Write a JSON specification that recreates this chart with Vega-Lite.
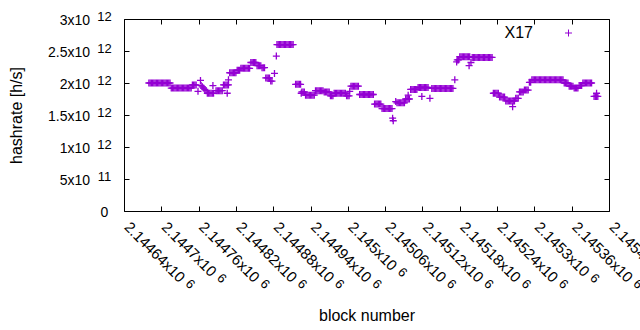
{
"$schema": "https://vega.github.io/schema/vega-lite/v6.json",
"width": 485, "height": 192,
"autosize": {"type": "none"},
"padding": {"left": 124, "top": 19, "right": 31, "bottom": 119},
"background": "white",
"config": {"view": {"stroke": null}, "font": "Liberation Sans",
  "axis": {"labelFont": "Liberation Sans", "titleFont": "Liberation Sans", "labelColor": "black", "titleColor": "black", "domainColor": "black", "tickColor": "black", "grid": false, "domainWidth": 1, "tickWidth": 1}},
"data": {"values": [
{"block":2144680,"hashrate":2.00e12},{"block":2144682,"hashrate":2.00e12},{"block":2144684,"hashrate":2.00e12},{"block":2144686,"hashrate":2.00e12},{"block":2144688,"hashrate":2.00e12},{"block":2144690,"hashrate":2.00e12},{"block":2144692,"hashrate":2.00e12},{"block":2144694,"hashrate":2.00e12},{"block":2144696,"hashrate":2.00e12},{"block":2144698,"hashrate":2.00e12},{"block":2144700,"hashrate":2.00e12},{"block":2144702,"hashrate":2.00e12},{"block":2144704,"hashrate":2.00e12},{"block":2144706,"hashrate":2.00e12},{"block":2144708,"hashrate":2.00e12},{"block":2144710,"hashrate":2.00e12},{"block":2144712,"hashrate":2.00e12},{"block":2144714,"hashrate":2.00e12},
{"block":2144716,"hashrate":1.92e12},{"block":2144718,"hashrate":1.92e12},{"block":2144720,"hashrate":1.92e12},{"block":2144722,"hashrate":1.92e12},{"block":2144724,"hashrate":1.92e12},{"block":2144726,"hashrate":1.92e12},{"block":2144728,"hashrate":1.92e12},{"block":2144730,"hashrate":1.92e12},{"block":2144732,"hashrate":1.92e12},{"block":2144734,"hashrate":1.92e12},{"block":2144736,"hashrate":1.92e12},{"block":2144738,"hashrate":1.92e12},{"block":2144740,"hashrate":1.92e12},{"block":2144742,"hashrate":1.92e12},{"block":2144744,"hashrate":1.92e12},{"block":2144746,"hashrate":1.92e12},{"block":2144748,"hashrate":1.92e12},
{"block":2144750,"hashrate":1.97e12},{"block":2144752,"hashrate":1.97e12},{"block":2144754,"hashrate":1.97e12},{"block":2144756,"hashrate":1.97e12},
{"block":2144759,"hashrate":1.87e12},{"block":2144763,"hashrate":2.04e12},
{"block":2144764,"hashrate":1.96e12},{"block":2144766,"hashrate":1.94e12},{"block":2144768,"hashrate":1.92e12},{"block":2144770,"hashrate":1.90e12},{"block":2144772,"hashrate":1.88e12},
{"block":2144774,"hashrate":1.84e12},{"block":2144776,"hashrate":1.84e12},{"block":2144778,"hashrate":1.84e12},{"block":2144780,"hashrate":1.84e12},{"block":2144782,"hashrate":1.84e12},{"block":2144784,"hashrate":1.84e12},
{"block":2144783,"hashrate":1.96e12},
{"block":2144788,"hashrate":1.88e12},{"block":2144790,"hashrate":1.88e12},{"block":2144792,"hashrate":1.88e12},{"block":2144794,"hashrate":1.88e12},{"block":2144796,"hashrate":1.88e12},{"block":2144798,"hashrate":1.88e12},
{"block":2144800,"hashrate":1.97e12},{"block":2144802,"hashrate":1.97e12},{"block":2144804,"hashrate":1.97e12},{"block":2144806,"hashrate":1.97e12},{"block":2144808,"hashrate":1.97e12},
{"block":2144806,"hashrate":1.84e12},{"block":2144808,"hashrate":2.05e12},
{"block":2144810,"hashrate":2.16e12},{"block":2144812,"hashrate":2.16e12},{"block":2144814,"hashrate":2.16e12},{"block":2144816,"hashrate":2.16e12},{"block":2144818,"hashrate":2.16e12},{"block":2144820,"hashrate":2.16e12},
{"block":2144822,"hashrate":2.20e12},{"block":2144824,"hashrate":2.20e12},{"block":2144826,"hashrate":2.20e12},
{"block":2144828,"hashrate":2.23e12},{"block":2144830,"hashrate":2.23e12},{"block":2144832,"hashrate":2.23e12},{"block":2144834,"hashrate":2.23e12},{"block":2144836,"hashrate":2.23e12},{"block":2144838,"hashrate":2.23e12},{"block":2144840,"hashrate":2.23e12},{"block":2144842,"hashrate":2.23e12},
{"block":2144844,"hashrate":2.32e12},{"block":2144846,"hashrate":2.32e12},{"block":2144848,"hashrate":2.32e12},{"block":2144850,"hashrate":2.32e12},{"block":2144852,"hashrate":2.32e12},
{"block":2144854,"hashrate":2.27e12},{"block":2144856,"hashrate":2.27e12},{"block":2144858,"hashrate":2.27e12},{"block":2144860,"hashrate":2.27e12},
{"block":2144862,"hashrate":2.24e12},{"block":2144864,"hashrate":2.24e12},{"block":2144866,"hashrate":2.24e12},
{"block":2144868,"hashrate":2.08e12},{"block":2144870,"hashrate":2.08e12},{"block":2144872,"hashrate":2.08e12},{"block":2144874,"hashrate":2.08e12},
{"block":2144876,"hashrate":2.03e12},{"block":2144878,"hashrate":2.03e12},
{"block":2144882,"hashrate":2.15e12},{"block":2144885,"hashrate":2.42e12},
{"block":2144886,"hashrate":2.60e12},{"block":2144888,"hashrate":2.60e12},{"block":2144890,"hashrate":2.60e12},{"block":2144892,"hashrate":2.60e12},{"block":2144894,"hashrate":2.60e12},{"block":2144896,"hashrate":2.60e12},{"block":2144898,"hashrate":2.60e12},{"block":2144900,"hashrate":2.60e12},{"block":2144902,"hashrate":2.60e12},{"block":2144904,"hashrate":2.60e12},{"block":2144906,"hashrate":2.60e12},{"block":2144908,"hashrate":2.60e12},{"block":2144910,"hashrate":2.60e12},{"block":2144912,"hashrate":2.60e12},
{"block":2144916,"hashrate":1.98e12},{"block":2144918,"hashrate":1.98e12},{"block":2144920,"hashrate":1.98e12},{"block":2144922,"hashrate":1.98e12},{"block":2144924,"hashrate":1.98e12},
{"block":2144925,"hashrate":1.84e12},
{"block":2144926,"hashrate":1.86e12},{"block":2144928,"hashrate":1.86e12},{"block":2144930,"hashrate":1.86e12},
{"block":2144932,"hashrate":1.81e12},{"block":2144934,"hashrate":1.81e12},{"block":2144936,"hashrate":1.81e12},{"block":2144938,"hashrate":1.81e12},{"block":2144940,"hashrate":1.81e12},{"block":2144942,"hashrate":1.81e12},{"block":2144944,"hashrate":1.81e12},{"block":2144946,"hashrate":1.81e12},
{"block":2144948,"hashrate":1.88e12},{"block":2144950,"hashrate":1.88e12},{"block":2144952,"hashrate":1.88e12},{"block":2144954,"hashrate":1.88e12},{"block":2144956,"hashrate":1.88e12},{"block":2144958,"hashrate":1.88e12},{"block":2144960,"hashrate":1.88e12},
{"block":2144962,"hashrate":1.86e12},{"block":2144964,"hashrate":1.86e12},{"block":2144966,"hashrate":1.86e12},{"block":2144968,"hashrate":1.86e12},{"block":2144970,"hashrate":1.86e12},
{"block":2144972,"hashrate":1.80e12},{"block":2144974,"hashrate":1.80e12},{"block":2144976,"hashrate":1.80e12},
{"block":2144978,"hashrate":1.84e12},{"block":2144980,"hashrate":1.84e12},{"block":2144982,"hashrate":1.84e12},{"block":2144984,"hashrate":1.84e12},{"block":2144986,"hashrate":1.84e12},{"block":2144988,"hashrate":1.84e12},{"block":2144990,"hashrate":1.84e12},{"block":2144992,"hashrate":1.84e12},{"block":2144994,"hashrate":1.84e12},{"block":2144996,"hashrate":1.84e12},
{"block":2144998,"hashrate":1.80e12},{"block":2145000,"hashrate":1.80e12},{"block":2145002,"hashrate":1.80e12},
{"block":2145003,"hashrate":1.87e12},
{"block":2145005,"hashrate":1.95e12},{"block":2145007,"hashrate":1.95e12},{"block":2145009,"hashrate":1.95e12},{"block":2145011,"hashrate":1.95e12},{"block":2145013,"hashrate":1.95e12},{"block":2145015,"hashrate":1.95e12},{"block":2145017,"hashrate":1.95e12},
{"block":2145019,"hashrate":1.82e12},{"block":2145021,"hashrate":1.82e12},{"block":2145023,"hashrate":1.82e12},{"block":2145025,"hashrate":1.82e12},{"block":2145027,"hashrate":1.82e12},{"block":2145029,"hashrate":1.82e12},{"block":2145031,"hashrate":1.82e12},{"block":2145033,"hashrate":1.82e12},{"block":2145035,"hashrate":1.82e12},{"block":2145037,"hashrate":1.82e12},{"block":2145039,"hashrate":1.82e12},{"block":2145041,"hashrate":1.82e12},
{"block":2145043,"hashrate":1.67e12},{"block":2145045,"hashrate":1.67e12},{"block":2145047,"hashrate":1.67e12},{"block":2145049,"hashrate":1.67e12},{"block":2145051,"hashrate":1.67e12},{"block":2145053,"hashrate":1.67e12},
{"block":2145055,"hashrate":1.60e12},{"block":2145057,"hashrate":1.60e12},{"block":2145059,"hashrate":1.60e12},{"block":2145061,"hashrate":1.60e12},{"block":2145063,"hashrate":1.60e12},{"block":2145065,"hashrate":1.60e12},{"block":2145067,"hashrate":1.60e12},{"block":2145069,"hashrate":1.60e12},{"block":2145071,"hashrate":1.60e12},
{"block":2145072,"hashrate":1.45e12},{"block":2145073,"hashrate":1.41e12},{"block":2145077,"hashrate":1.71e12},
{"block":2145079,"hashrate":1.69e12},{"block":2145081,"hashrate":1.69e12},{"block":2145083,"hashrate":1.69e12},{"block":2145085,"hashrate":1.69e12},{"block":2145087,"hashrate":1.69e12},{"block":2145089,"hashrate":1.69e12},{"block":2145091,"hashrate":1.69e12},
{"block":2145093,"hashrate":1.75e12},{"block":2145095,"hashrate":1.75e12},{"block":2145097,"hashrate":1.75e12},{"block":2145099,"hashrate":1.75e12},
{"block":2145097,"hashrate":1.81e12},
{"block":2145101,"hashrate":1.90e12},{"block":2145103,"hashrate":1.90e12},{"block":2145105,"hashrate":1.90e12},{"block":2145107,"hashrate":1.90e12},{"block":2145109,"hashrate":1.90e12},{"block":2145111,"hashrate":1.90e12},
{"block":2145113,"hashrate":1.93e12},{"block":2145115,"hashrate":1.93e12},{"block":2145117,"hashrate":1.93e12},{"block":2145119,"hashrate":1.93e12},{"block":2145121,"hashrate":1.93e12},{"block":2145123,"hashrate":1.93e12},{"block":2145125,"hashrate":1.93e12},{"block":2145127,"hashrate":1.93e12},{"block":2145129,"hashrate":1.93e12},
{"block":2145119,"hashrate":1.79e12},{"block":2145132,"hashrate":1.76e12},
{"block":2145135,"hashrate":1.915e12},{"block":2145137,"hashrate":1.915e12},{"block":2145139,"hashrate":1.915e12},{"block":2145141,"hashrate":1.915e12},{"block":2145143,"hashrate":1.915e12},{"block":2145145,"hashrate":1.915e12},{"block":2145147,"hashrate":1.915e12},{"block":2145149,"hashrate":1.915e12},{"block":2145151,"hashrate":1.915e12},{"block":2145153,"hashrate":1.915e12},{"block":2145155,"hashrate":1.915e12},{"block":2145157,"hashrate":1.915e12},{"block":2145159,"hashrate":1.915e12},{"block":2145161,"hashrate":1.915e12},{"block":2145163,"hashrate":1.915e12},{"block":2145165,"hashrate":1.915e12},{"block":2145167,"hashrate":1.915e12},{"block":2145169,"hashrate":1.915e12},
{"block":2145172,"hashrate":2.05e12},{"block":2145175,"hashrate":2.33e12},
{"block":2145176,"hashrate":2.36e12},{"block":2145178,"hashrate":2.36e12},
{"block":2145180,"hashrate":2.41e12},{"block":2145182,"hashrate":2.41e12},{"block":2145184,"hashrate":2.41e12},{"block":2145186,"hashrate":2.41e12},{"block":2145188,"hashrate":2.41e12},{"block":2145190,"hashrate":2.41e12},{"block":2145192,"hashrate":2.41e12},{"block":2145194,"hashrate":2.41e12},{"block":2145196,"hashrate":2.41e12},
{"block":2145195,"hashrate":2.27e12},{"block":2145198,"hashrate":2.32e12},
{"block":2145200,"hashrate":2.40e12},{"block":2145202,"hashrate":2.40e12},{"block":2145204,"hashrate":2.40e12},{"block":2145206,"hashrate":2.40e12},{"block":2145208,"hashrate":2.40e12},{"block":2145210,"hashrate":2.40e12},{"block":2145212,"hashrate":2.40e12},{"block":2145214,"hashrate":2.40e12},{"block":2145216,"hashrate":2.40e12},{"block":2145218,"hashrate":2.40e12},{"block":2145220,"hashrate":2.40e12},{"block":2145222,"hashrate":2.40e12},{"block":2145224,"hashrate":2.40e12},{"block":2145226,"hashrate":2.40e12},{"block":2145228,"hashrate":2.40e12},{"block":2145230,"hashrate":2.40e12},{"block":2145232,"hashrate":2.40e12},
{"block":2145234,"hashrate":1.84e12},{"block":2145236,"hashrate":1.84e12},{"block":2145238,"hashrate":1.84e12},{"block":2145240,"hashrate":1.84e12},{"block":2145242,"hashrate":1.84e12},
{"block":2145244,"hashrate":1.78e12},{"block":2145246,"hashrate":1.78e12},{"block":2145248,"hashrate":1.78e12},{"block":2145250,"hashrate":1.78e12},{"block":2145252,"hashrate":1.78e12},
{"block":2145254,"hashrate":1.72e12},{"block":2145256,"hashrate":1.72e12},{"block":2145258,"hashrate":1.72e12},{"block":2145260,"hashrate":1.72e12},{"block":2145262,"hashrate":1.72e12},{"block":2145264,"hashrate":1.72e12},{"block":2145266,"hashrate":1.72e12},{"block":2145268,"hashrate":1.72e12},
{"block":2145265,"hashrate":1.63e12},
{"block":2145270,"hashrate":1.76e12},{"block":2145272,"hashrate":1.76e12},{"block":2145274,"hashrate":1.76e12},
{"block":2145276,"hashrate":1.86e12},{"block":2145278,"hashrate":1.86e12},{"block":2145280,"hashrate":1.86e12},{"block":2145282,"hashrate":1.86e12},
{"block":2145284,"hashrate":1.89e12},{"block":2145286,"hashrate":1.89e12},{"block":2145288,"hashrate":1.89e12},{"block":2145290,"hashrate":1.89e12},
{"block":2145292,"hashrate":2.01e12},{"block":2145294,"hashrate":2.01e12},
{"block":2145296,"hashrate":2.05e12},{"block":2145298,"hashrate":2.05e12},{"block":2145300,"hashrate":2.05e12},{"block":2145302,"hashrate":2.05e12},{"block":2145304,"hashrate":2.05e12},{"block":2145306,"hashrate":2.05e12},{"block":2145308,"hashrate":2.05e12},{"block":2145310,"hashrate":2.05e12},{"block":2145312,"hashrate":2.05e12},{"block":2145314,"hashrate":2.05e12},{"block":2145316,"hashrate":2.05e12},{"block":2145318,"hashrate":2.05e12},{"block":2145320,"hashrate":2.05e12},{"block":2145322,"hashrate":2.05e12},{"block":2145324,"hashrate":2.05e12},{"block":2145326,"hashrate":2.05e12},{"block":2145328,"hashrate":2.05e12},{"block":2145330,"hashrate":2.05e12},{"block":2145332,"hashrate":2.05e12},{"block":2145334,"hashrate":2.05e12},{"block":2145336,"hashrate":2.05e12},{"block":2145338,"hashrate":2.05e12},{"block":2145340,"hashrate":2.05e12},{"block":2145342,"hashrate":2.05e12},{"block":2145344,"hashrate":2.05e12},{"block":2145346,"hashrate":2.05e12},
{"block":2145348,"hashrate":2.00e12},{"block":2145350,"hashrate":2.00e12},{"block":2145352,"hashrate":2.00e12},{"block":2145354,"hashrate":2.00e12},
{"block":2145356,"hashrate":1.95e12},{"block":2145358,"hashrate":1.95e12},{"block":2145360,"hashrate":1.95e12},{"block":2145362,"hashrate":1.95e12},
{"block":2145364,"hashrate":1.92e12},{"block":2145366,"hashrate":1.92e12},{"block":2145368,"hashrate":1.92e12},{"block":2145370,"hashrate":1.92e12},
{"block":2145372,"hashrate":1.96e12},{"block":2145374,"hashrate":1.96e12},{"block":2145376,"hashrate":1.96e12},
{"block":2145378,"hashrate":2.00e12},{"block":2145380,"hashrate":2.00e12},{"block":2145382,"hashrate":2.00e12},{"block":2145384,"hashrate":2.00e12},{"block":2145386,"hashrate":2.00e12},{"block":2145388,"hashrate":2.00e12},{"block":2145390,"hashrate":2.00e12},{"block":2145392,"hashrate":2.00e12},
{"block":2145396,"hashrate":1.79e12},{"block":2145398,"hashrate":1.79e12},{"block":2145400,"hashrate":1.79e12},{"block":2145402,"hashrate":1.79e12},
{"block":2145400,"hashrate":1.84e12}
]},
"layer": [
 {"mark": {"type": "point", "shape": "M-1,0H1M0,-1V1", "filled": false, "size": 49, "strokeWidth": 1.3, "opacity": 1},
  "encoding": {
   "x": {"field": "block", "type": "quantitative", "scale": {"domain": [2144640, 2145420], "nice": false, "zero": false},
     "axis": {"orient": "bottom", "values": [2144640,2144700,2144760,2144820,2144880,2144940,2145000,2145060,2145120,2145180,2145240,2145300,2145360,2145420],
       "ticks": false, "domain": true, "labelExpr": "(datum.value/1e6) + 'x10'", "labelAngle": 45, "labelAlign": "left", "labelBaseline": "middle",
       "labelFontSize": 15, "labelPadding": 13, "labelOffset": 2.5, "labelOverlap": false, "labelBound": false, "labelFlush": false,
       "title": "block number", "titleFontSize": 16, "titleFontWeight": "normal", "titleX": 242.5, "titleY": 109, "titleBaseline": "alphabetic", "titleAlign": "center", "titleAngle": 0}},
   "y": {"field": "hashrate", "type": "quantitative", "scale": {"domain": [0, 3e12], "nice": false, "zero": true},
     "axis": {"orient": "left", "values": [0, 5e11, 1e12, 1.5e12, 2e12, 2.5e12, 3e12], "ticks": false, "domain": true,
       "labelExpr": "datum.value == 0 ? '' : (datum.value < 1e12 ? (datum.value/1e11) + 'x10' : (datum.value/1e12) + 'x10')",
       "labelFontSize": 14, "labelPadding": 34.5, "labelOffset": 1.5, "labelAlign": "right", "labelBaseline": "middle", "labelOverlap": false, "labelBound": false, "labelFlush": false,
       "title": "hashrate [h/s]", "titleFontSize": 16, "titleFontWeight": "normal", "titleX": -102.5, "titleY": 96, "titleBaseline": "alphabetic", "titleAngle": -90, "titleAlign": "center"}},
   "color": {"datum": "X17", "type": "nominal", "scale": {"range": ["#9400d3"]},
     "legend": {"title": null, "orient": "none", "legendX": 436.5, "legendY": 6, "padding": 0, "symbolType": "M-1,0H1M0,-1V1", "symbolSize": 49, "symbolStrokeWidth": 1, "symbolFillColor": "transparent", "labelFontSize": 16, "labelFont": "Liberation Sans", "labelColor": "black", "labelAlign": "right", "labelOffset": -43.5}}
  }},
 {"mark": {"type": "point", "opacity": 0},
  "encoding": {
   "x": {"field": "block", "type": "quantitative", "scale": {"domain": [2144640, 2145420], "nice": false, "zero": false},
     "axis": {"orient": "bottom", "offset": -192, "values": [2144640,2144700,2144760,2144820,2144880,2144940,2145000,2145060,2145120,2145180,2145240,2145300,2145360,2145420], "labels": false, "ticks": true, "tickSize": 5, "domain": true, "title": null}},
   "y": {"field": "hashrate", "type": "quantitative", "scale": {"domain": [0, 3e12], "nice": false, "zero": true},
     "axis": {"orient": "left", "offset": -485, "values": [0, 5e11, 1e12, 1.5e12, 2e12, 2.5e12, 3e12], "labels": false, "ticks": true, "tickSize": 5, "domain": true, "title": null}}
  }},
 {"mark": {"type": "point", "opacity": 0},
  "encoding": {
   "x": {"field": "block", "type": "quantitative", "scale": {"domain": [2144640, 2145420], "nice": false, "zero": false},
     "axis": {"orient": "top", "offset": -192, "values": [2144640,2144700,2144760,2144820,2144880,2144940,2145000,2145060,2145120,2145180,2145240,2145300,2145360,2145420], "labels": false, "ticks": true, "tickSize": 5, "domain": false, "title": null}},
   "y": {"field": "hashrate", "type": "quantitative", "scale": {"domain": [0, 3e12], "nice": false, "zero": true},
     "axis": {"orient": "right", "offset": -485, "values": [0, 5e11, 1e12, 1.5e12, 2e12, 2.5e12, 3e12], "labels": false, "ticks": true, "tickSize": 5, "domain": false, "title": null}}
  }},
 {"mark": {"type": "point", "opacity": 0},
  "encoding": {
   "x": {"field": "block", "type": "quantitative", "scale": {"domain": [2144640, 2145420], "nice": false, "zero": false},
     "axis": {"orient": "bottom", "values": [2144640,2144760,2144820,2144880,2144940,2145060,2145120,2145180,2145240,2145360,2145420], "labelExpr": "'6'", "ticks": false, "domain": false,
       "labelAngle": 45, "labelAlign": "left", "labelBaseline": "middle", "labelFontSize": 13, "labelOffset": 63.2, "labelPadding": 70.2, "labelOverlap": false, "labelBound": false, "labelFlush": false, "title": null}},
   "y": {"field": "hashrate", "type": "quantitative", "scale": {"domain": [0, 3e12], "nice": false, "zero": true},
     "axis": {"orient": "left", "values": [0, 5e11, 1e12, 1.5e12, 2e12, 2.5e12, 3e12], "ticks": false, "domain": false,
       "labelExpr": "datum.value == 0 ? '0' : (datum.value < 1e12 ? '11' : '12')",
       "labelFontSize": {"condition": {"test": "datum.value == 0", "value": 14}, "value": 13},
       "labelOffset": {"condition": {"test": "datum.value == 0", "value": 1.5}, "value": -2.5},
       "labelAlign": "center", "labelBaseline": "middle", "labelPadding": 20, "labelOverlap": false, "labelBound": false, "labelFlush": false, "title": null}}
  }},
 {"mark": {"type": "point", "opacity": 0},
  "encoding": {
   "x": {"field": "block", "type": "quantitative", "scale": {"domain": [2144640, 2145420], "nice": false, "zero": false},
     "axis": {"orient": "bottom", "values": [2144700, 2145300], "labelExpr": "'6'", "ticks": false, "domain": false,
       "labelAngle": 45, "labelAlign": "left", "labelBaseline": "middle", "labelFontSize": 13, "labelOffset": 57.3, "labelPadding": 64.3, "labelOverlap": false, "labelBound": false, "labelFlush": false, "title": null}},
   "y": {"field": "hashrate", "type": "quantitative", "scale": {"domain": [0, 3e12], "nice": false, "zero": true}, "axis": null}
  }},
 {"mark": {"type": "point", "opacity": 0},
  "encoding": {
   "x": {"field": "block", "type": "quantitative", "scale": {"domain": [2144640, 2145420], "nice": false, "zero": false},
     "axis": {"orient": "bottom", "values": [2145000], "labelExpr": "'6'", "ticks": false, "domain": false,
       "labelAngle": 45, "labelAlign": "left", "labelBaseline": "middle", "labelFontSize": 13, "labelOffset": 51.4, "labelPadding": 58.4, "labelOverlap": false, "labelBound": false, "labelFlush": false, "title": null}},
   "y": {"field": "hashrate", "type": "quantitative", "scale": {"domain": [0, 3e12], "nice": false, "zero": true}, "axis": null}
  }}
],
"resolve": {"axis": {"x": "independent", "y": "independent"}}
}
